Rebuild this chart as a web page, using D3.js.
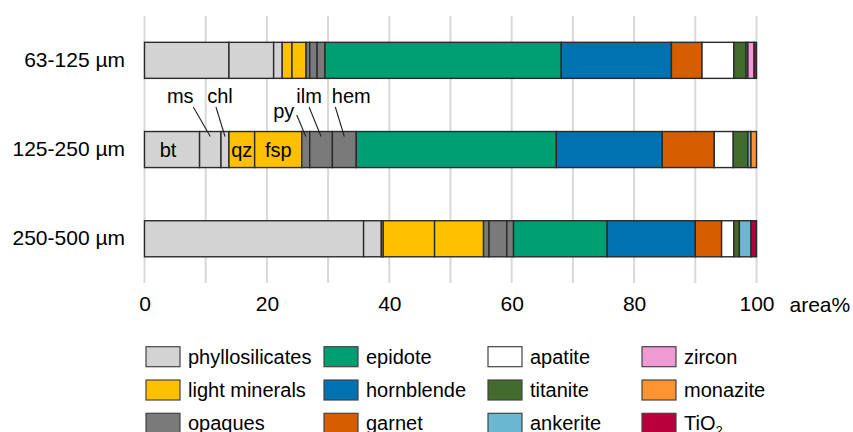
<!DOCTYPE html>
<html><head><meta charset="utf-8">
<script src="https://cdn.jsdelivr.net/npm/d3@7"></script>
<style>body{margin:0;background:#fff}svg{display:block}text{font-family:"Liberation Sans",Arial,sans-serif;fill:#000}</style>
</head><body><svg id="c" width="853" height="432"></svg>
<script>
const rows = ["63-125 µm", "125-250 µm", "250-500 µm"];
const components = ["bt","ms","chl","qz","fsp","py","ilm","hem","epidote","hornblende","garnet","apatite","titanite","ankerite","zircon","monazite","TiO2"];
const componentGroup = ["phyllosilicates","phyllosilicates","phyllosilicates","light minerals","light minerals","opaques","opaques","opaques","epidote","hornblende","garnet","apatite","titanite","ankerite","zircon","monazite","TiO2"];
const values63 =  [13.8, 7.3, 1.4, 1.6, 2.3, 0.6, 1.2, 1.3, 38.6, 18.0, 5.0, 5.2, 2.0, 0.3, 1.0, 0.0, 0.4];
const values125 = [9.0, 3.5, 1.3, 4.2, 7.7, 1.3, 3.7, 3.9, 32.7, 17.3, 8.5, 3.1, 2.4, 0.5, 0.0, 0.9, 0.0];
const values250 = [35.8, 2.9, 0.3, 8.4, 8.0, 0.9, 2.9, 1.1, 15.3, 14.4, 4.3, 2.0, 0.9, 1.9, 0.0, 0.0, 0.9];
const legendGroups = ["phyllosilicates","light minerals","opaques","epidote","hornblende","garnet","apatite","titanite","ankerite","zircon","monazite","TiO2"];
const groupColors = ["#d3d3d3","#ffc000","#7a7a7a","#009e73","#0072b2","#d55e00","#ffffff","#436b2d","#69b7d0","#f09ad4","#fd9430","#b8003c"];
const xTicks = [0, 20, 40, 60, 80, 100];
const gridTicks = [0,10,20,30,40,50,60,70,80,90,100];
const calloutLabels = ["ms","chl","py","ilm","hem"];
const insideLabels = ["bt","qz","fsp"];

const allValues = [values63, values125, values250];
const svg = d3.select("#c");
const x = d3.scaleLinear().domain([0,100]).range([144.5,756.5]);
const y = d3.scaleBand().domain(rows).range([16,283.1]).paddingInner(0.596).paddingOuter(0.295);
const color = d3.scaleOrdinal().domain(legendGroups).range(groupColors);

// grid
svg.append("g").selectAll("line").data(gridTicks).join("line")
  .attr("x1", d=>x(d)).attr("x2", d=>x(d)).attr("y1", 16).attr("y2", 283)
  .attr("stroke", "#d9d9d9").attr("stroke-width", 2);

// x axis labels
const xAxis = d3.axisBottom(x).tickValues(xTicks).tickSize(0).tickPadding(0);
const ax = svg.append("g").attr("transform","translate(0,296)").call(xAxis);
ax.select(".domain").remove();
ax.selectAll("text").attr("font-size", 21).attr("font-family","Liberation Sans, Arial, sans-serif").attr("fill","#000").attr("dy","0.71em");
svg.append("text").attr("x", x(100)+33).attr("y", 312).attr("font-size", 21).text("area%");

// y labels
const yAxis = d3.axisLeft(y).tickSize(0).tickPadding(0);
const ay = svg.append("g").attr("transform","translate(125,0)").call(yAxis);
ay.select(".domain").remove();
ay.selectAll("text").attr("font-size", 21).attr("font-family","Liberation Sans, Arial, sans-serif").attr("fill","#000");

// stacked bars
const stackData = rows.map((r,i)=>{
  let acc = 0;
  return components.map((c,j)=>{ const v = allValues[i][j]; const s = {row:r, comp:c, group:componentGroup[j], x0:acc, x1:acc+v}; acc += v; return s; });
});
const segs = stackData.flat().filter(d=>d.x1 - d.x0 > 0);
svg.append("g").selectAll("rect").data(segs).join("rect")
  .attr("x", d=>x(d.x0)).attr("width", d=>x(d.x1)-x(d.x0))
  .attr("y", d=>y(d.row)).attr("height", y.bandwidth())
  .attr("fill", d=>color(d.group)).attr("stroke", "#2a2a2a").attr("stroke-width", 1.4);

// labels inside row 2
const row2 = stackData[1];
const segOf = c => row2.find(d=>d.comp===c);
const insideDx = {bt:-4, qz:0, fsp:0};
svg.append("g").selectAll("text").data(insideLabels).join("text")
  .attr("x", d=>x((segOf(d).x0+segOf(d).x1)/2) + insideDx[d])
  .attr("y", y(rows[1]) + y.bandwidth()/2 + 7)
  .attr("text-anchor","middle").attr("font-size", 20).text(d=>d);

// callouts
const callStyle = {ms:{dx:-17, ly:107, ty:103.3, tdx:-13}, chl:{dx:-9, ly:107, ty:103.3, tdx:4}, py:{dx:-9, ly:115, ty:118, tdx:-13}, ilm:{dx:-12, ly:107, ty:103.3, tdx:0}, hem:{dx:-9, ly:107, ty:103.3, tdx:16}};
const cg = svg.append("g");
calloutLabels.forEach(c=>{
  const s = segOf(c); const cx = x((s.x0+s.x1)/2); const st = callStyle[c];
  cg.append("line").attr("x1", cx+st.dx).attr("y1", st.ly).attr("x2", cx).attr("y2", y(rows[1])+5)
    .attr("stroke","#222").attr("stroke-width",1.1);
  cg.append("text").attr("x", cx+st.dx+st.tdx).attr("y", st.ty).attr("text-anchor","middle").attr("font-size",20).text(c);
});

// legend
const colX = [146, 324, 488, 642];
const rowY = [346.7, 380, 413.3];
const lg = svg.append("g").selectAll("g").data(legendGroups).join("g")
  .attr("transform", (d,i)=>`translate(${colX[Math.floor(i/3)]},${rowY[i%3]})`);
lg.append("rect").attr("width",34).attr("height",20).attr("fill", d=>color(d)).attr("stroke","#444").attr("stroke-width",1.2);
lg.each(function(d){
  const t = d3.select(this).append("text").attr("x", 42).attr("y", 17).attr("font-size", 20);
  if (d === "TiO2") { t.append("tspan").text("TiO"); t.append("tspan").attr("font-size",13).attr("dy",5).text("2"); }
  else t.text(d);
});
</script></body></html>
